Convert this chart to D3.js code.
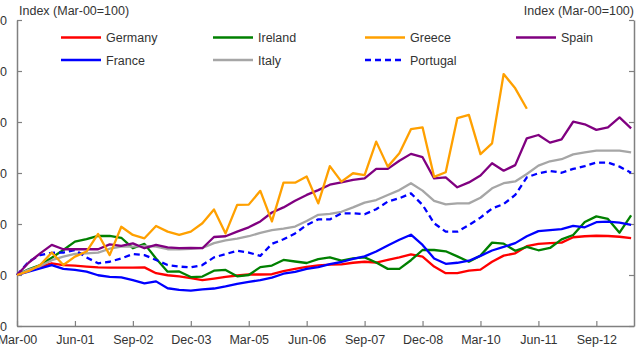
<!DOCTYPE html>
<html>
<head>
<meta charset="utf-8">
<script src="https://cdn.jsdelivr.net/npm/d3@7/dist/d3.min.js"></script>
<style>
  html, body { margin: 0; padding: 0; background: #fff; }
  svg { display: block; font-family: "Liberation Sans", Arial, sans-serif; }
</style>
</head>
<body>
<svg id="chart" width="640" height="360"></svg>
<script>
// Quarterly index, Mar-00 = 100 (quarter 0 = Mar-00)
const tickLabels = ["Mar-00","Jun-01","Sep-02","Dec-03","Mar-05","Jun-06","Sep-07","Dec-08","Mar-10","Jun-11","Sep-12"];
const tickQuarters = [0,5,10,15,20,25,30,35,40,45,50];
const yTicks = [80,100,120,140,160,180,200];

const germany = [100,101.7,103.3,104.6,103.9,103.7,103.3,103.0,102.9,102.9,102.9,103.0,100.7,99.9,99.5,98.8,98.0,98.6,99.3,99.8,100.2,100.2,100.3,101.5,102.4,103.2,103.8,104.1,104.2,104.8,105.2,104.9,105.9,106.9,108.1,107.2,103.3,100.7,100.7,101.7,102.1,105.2,107.6,108.5,111.3,112.2,112.5,112.7,114.8,115.2,115.4,115.3,115.0,114.5];
const france = [100,101.3,102.6,103.9,102.4,102.0,101.3,99.9,99.3,99.1,98.0,96.7,97.5,94.8,94.2,93.9,94.4,94.7,95.5,96.5,97.3,98.0,99.0,100.5,101.2,102.4,103.1,104.3,105.1,106.3,107.3,109.2,111.6,113.8,115.8,111.8,106.5,104.4,104.8,105.6,107.5,109.6,111.0,112.5,115.2,117.2,117.6,118.0,119.3,118.7,120.7,120.9,120.5,119.7];
const ireland = [100,102.2,103.9,106.8,109.8,113.1,114.1,115.3,115.3,114.6,110.5,112.2,106.5,101.3,101.4,99.2,99.4,101.7,102.0,99.5,100,103.1,103.7,105.9,105.3,104.7,106.2,106.9,105.6,106.5,106.9,104.9,102.4,102.4,105.8,109.8,109.8,109.3,107.3,105.2,107.6,112.7,112.3,109.5,111.0,109.7,110.6,114.0,115.7,120.8,123.0,122.0,116.6,123.4];
const greece = [100,101.5,103.9,108.8,103.9,107.2,109.2,116.1,107.8,118.9,115.7,114.4,119.2,117.0,115.7,117.0,120.3,125.7,116.3,127.5,127.6,133.0,121.0,136.2,136.2,138.6,128.1,142.7,136.6,139.9,139.2,152.3,142.5,147.7,157.2,157.9,138.5,140.3,161.5,162.8,147.4,151.6,178.8,173.2,165.2];
const spain = [100,104.8,108.5,111.8,110.1,110.1,110.1,110.1,112.0,111.4,112.4,110.5,111.8,110.8,110.5,110.6,110.5,114.9,115.2,117.0,118.7,121.0,124.5,126.5,129.1,131.4,133.3,135.4,136.3,137.3,137.9,141.6,141.6,144.8,147.5,146.2,137.9,138.3,134.4,136.3,139.0,143.8,140.9,143.1,153.6,154.9,151.9,153.2,160.1,159.1,156.9,157.9,161.8,157.5];
const italy = [100,102.0,103.5,105.8,107.2,108.3,108.5,108.8,110.3,111.1,111.1,111.4,111.1,110.1,110.1,110.3,110.6,112.5,113.6,114.3,115.2,116.5,117.6,118.2,119.0,121.2,123.6,124.0,124.8,126.5,128.4,129.4,131.4,133.3,136.0,133.1,129.1,127.7,128.1,128.1,130.3,134.0,136.0,136.7,139.6,142.9,144.6,145.4,147.3,148.1,148.8,148.8,148.8,148.1];
const portugal = [100,105.2,107.8,108.7,108.8,109.8,106.9,104.6,105.2,106.5,108.2,107.8,105.9,103.9,103.3,103.0,103.9,106.9,108.2,109.5,108.8,107.5,112.2,114.0,116.3,119.6,121.8,121.8,124.2,124.2,123.8,125.8,128.8,130.1,132.0,127.5,120.3,117.0,117.0,119.6,122.5,126.1,127.8,131.4,138.3,139.9,140.8,140.1,141.6,142.7,144.1,144.1,142.5,140.1];

const seriesNames = ["Germany","Ireland","Greece","Spain","France","Italy","Portugal"];
const seriesData  = [germany, ireland, greece, spain, france, italy, portugal];
const seriesColors = ["#ff0000","#008000","#ffa000","#800080","#0000ff","#a6a6a6","#0000ff"];
const seriesDash = [null,null,null,null,null,null,"6,4"];

const svg = d3.select("#chart");
const mLeft = 17, mRight = 634, mTop = 20, mBottom = 326;

const x = d3.scaleLinear().domain([0, 53.25]).range([mLeft, mRight]);
const y = d3.scaleLinear().domain([80, 200]).range([mBottom, mTop]);

const axisColor = "#808080";
const textColor = "#333333";

// axes
const gx = svg.append("g").attr("transform", `translate(0,${mBottom})`)
  .call(d3.axisBottom(x).tickValues(tickQuarters).tickFormat((d,i) => tickLabels[i]).tickSizeInner(-5).tickSizeOuter(0).tickPadding(9));
const gyl = svg.append("g").attr("transform", `translate(${mLeft},0)`)
  .call(d3.axisLeft(y).tickValues(yTicks).tickSizeInner(-5).tickSizeOuter(0).tickPadding(10));
const gyr = svg.append("g").attr("transform", `translate(${mRight},0)`)
  .call(d3.axisRight(y).tickValues(yTicks).tickFormat("").tickSizeInner(-5).tickSizeOuter(0));
[gx, gyl, gyr].forEach(g => {
  g.select(".domain").attr("stroke", axisColor).attr("stroke-width", 1.5);
  g.selectAll(".tick line").attr("stroke", axisColor).attr("stroke-width", 1.2);
  g.selectAll(".tick text").attr("fill", textColor).attr("font-size", 12.5).attr("font-family", "Liberation Sans, Arial, sans-serif");
});

// lines
const line = d3.line().x((d,i) => x(i)).y(d => y(d));
const lineOrder = [0,1,4,5,6,3,2];
lineOrder.forEach(k => {
  svg.append("path")
    .datum(seriesData[k])
    .attr("fill", "none")
    .attr("stroke", seriesColors[k])
    .attr("stroke-width", 2.3)
    .attr("stroke-linejoin", "round")
    .attr("stroke-dasharray", seriesDash[k])
    .attr("d", line);
});

// axis titles
svg.append("text").attr("x", 19).attr("y", 15).attr("fill", textColor).attr("font-size", 12.5).text("Index (Mar-00=100)");
svg.append("text").attr("x", 634).attr("y", 15).attr("text-anchor", "end").attr("fill", textColor).attr("font-size", 12.5).text("Index (Mar-00=100)");

// legend
const legCols = [61, 213, 365, 516];
const legRows = [37.5, 60];
seriesNames.forEach((name, k) => {
  const cx = legCols[k % 4], cy = legRows[Math.floor(k / 4)];
  const g = svg.append("g");
  g.append("line").attr("x1", cx).attr("x2", cx + 40).attr("y1", cy).attr("y2", cy)
    .attr("stroke", seriesColors[k]).attr("stroke-width", 2.3).attr("stroke-dasharray", seriesDash[k]);
  g.append("text").attr("x", cx + 45).attr("y", cy + 4.5).attr("fill", textColor).attr("font-size", 12.5).text(name);
});
</script>
</body>
</html>
